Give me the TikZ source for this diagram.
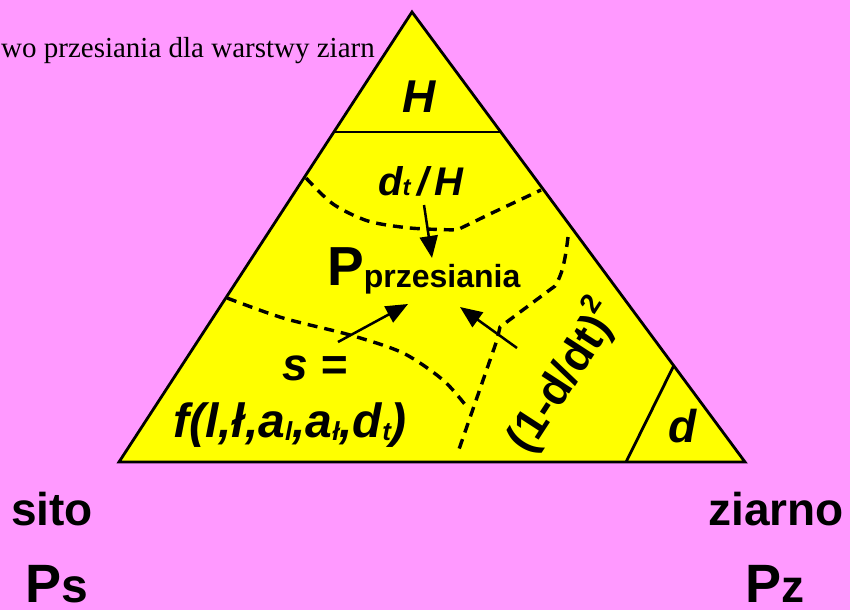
\documentclass[tikz,border=0pt]{standalone}
\usepackage{fontspec}
\setmainfont{Liberation Sans}
\newfontfamily\serifTNR{Liberation Serif}
\usetikzlibrary{arrows.meta,calc}
\definecolor{bgpink}{RGB}{255,153,255}
\definecolor{tyellow}{RGB}{255,255,0}
\newcommand\fs[1]{\fontsize{#1}{#1}\selectfont}
\begin{document}
\begin{tikzpicture}[x=1pt,y=-1pt,
  lbl/.style={inner sep=0pt, font=\bfseries\itshape},
  ulbl/.style={inner sep=0pt, font=\bfseries},
  edge/.style={line width=2.8pt, draw=black},
  dashline/.style={line width=3.4pt, dash pattern=on 10pt off 7pt},
  arr/.style={line width=2.5pt, -{Triangle[length=22pt,width=18pt]}}]
\fill[bgpink] (0,0) rectangle (850,610);
\useasboundingbox (0,0) rectangle (850,610);
% triangle
\coordinate (A) at (412,12);
\coordinate (B) at (119,462);
\coordinate (C) at (745,462);
\filldraw[fill=tyellow, edge] (A) -- (B) -- (C) -- cycle;
\draw[edge] ($(A)!0.2667!(B)$) -- ($(A)!0.2667!(C)$);
\draw[edge] ($(A)!0.786!(C)$) -- ($(B)!0.81!(C)$);
% dashed boundaries
\draw[dashline] plot[smooth] coordinates {(306,178) (333,204) (368,221) (410,228) (457,230)} -- (492,213) -- (541,190);
\draw[dashline] (568,237) .. controls (565,262) and (562,275) .. (555,286) -- (500,327) -- (497,340) -- (457,455);
\draw[dashline] plot[smooth] coordinates {(227,298) (283,318) (350,335) (403,353) (443,380) (467,407)};
% caption
\node[anchor=base east, inner sep=0pt, font=\serifTNR] (cap) at (375,57) {\fs{29}wo przesiania dla warstwy ziarn};
% texts
\node[lbl, anchor=base] (H) at (419,112) {\fs{46}H};
\node[lbl, anchor=base] (dtH) at (421,195) {\fs{40}d{\fs{24}t}\,/\,H};
\node[ulbl, anchor=base west] (Pp) at (327,285) {\fs{55}P{\fs{32}\raisebox{-2pt}{przesiania}}};
\node[lbl, anchor=base] (s) at (315,380) {\fs{46}s =};
\node[lbl, anchor=base] (f) at (290,437) {\fs{48}f(l,ł,a{\fs{26}\raisebox{-3pt}{l}},a{\fs{26}\raisebox{-3pt}{ł}},d{\fs{26}\raisebox{-3pt}{t}})};
\node[ulbl, rotate=57] (r) at (562,376) {\fs{45}(1-d/dt)\raisebox{22pt}{\fs{28}2}};
\node[lbl, anchor=base] (d) at (683,442) {\fs{46}d};
\node[ulbl, anchor=base] (sito) at (52,525) {\fs{46}sito};
\node[ulbl, anchor=base, text depth=0pt] (Ps) at (57,602) {\fs{54}P\fs{48}s};
\node[ulbl, anchor=base] (ziarno) at (776,525) {\fs{46}ziarno};
\node[ulbl, anchor=base, text depth=0pt] (Pz) at (775,602) {\fs{54}P\fs{46}z};
% arrows
\coordinate (a1s) at (424,205); \coordinate (a1e) at (432,258);
\coordinate (a2s) at (338,342); \coordinate (a2e) at (408,304);
\coordinate (a3s) at (517,348); \coordinate (a3e) at (460,307);
\draw[arr] (a1s) -- (a1e);
\draw[arr] (a2s) -- (a2e);
\draw[arr] (a3s) -- (a3e);
\end{tikzpicture}
\end{document}
